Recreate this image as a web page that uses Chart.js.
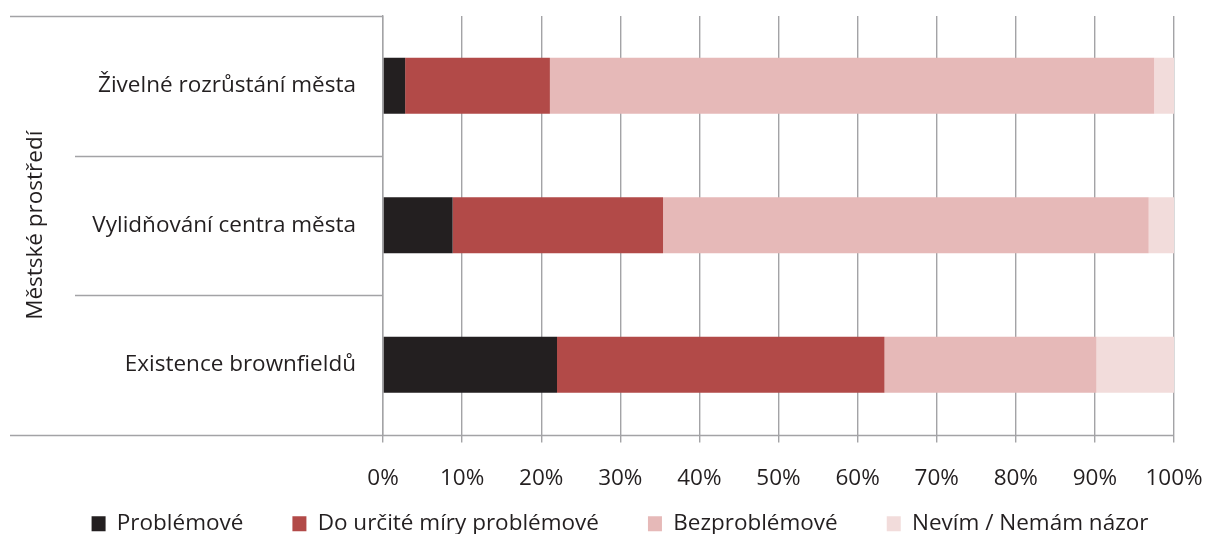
<!DOCTYPE html>
<html>
<head>
  <meta charset="utf-8">
  <title>Městské prostředí</title>
  <script src="https://cdn.jsdelivr.net/npm/chart.js"></script>
  <style>
    html, body { margin: 0; padding: 0; background: #fff; overflow: hidden; }
    .wrap { position: relative; width: 1207px; height: 580px; }
  </style>
</head>
<body>
  <div class="wrap">
    <canvas id="chart"></canvas>
  </div>
  <script>
    // Categories (top to bottom) and answer shares in %
    const categories = ['Živelné rozrůstání města', 'Vylidňování centra města', 'Existence brownfieldů'];
    const groupLabel = 'Městské prostředí';
    const seriesNames = ['Problémové', 'Do určité míry problémové', 'Bezproblémové', 'Nevím / Nemám názor'];
    const problemove = [2.8, 8.8, 22.0];
    const doUrciteMiry = [18.3, 26.6, 41.4];
    const bezproblemove = [76.4, 61.4, 26.8];
    const nevim = [2.5, 3.2, 9.8];
    const seriesColors = ['#231f20', '#b24a48', '#e6b9b8', '#f2dcdb'];

    const gridColor = '#a3a3a6';
    const textColor = '#231f20';
    const font = "'Open Sans', sans-serif";
    const fontSize = 22.5;
    const legendPadding = 49;

    // Separators and the rotated group title in the category area
    const groupAxisPlugin = {
      id: 'groupAxis',
      afterDraw(chart) {
        const ctx = chart.ctx;
        const area = chart.chartArea;
        const n = categories.length;
        const step = (area.bottom - area.top) / n;
        ctx.save();
        ctx.strokeStyle = gridColor;
        ctx.lineWidth = 1.4;
        for (let i = 0; i <= n; i++) {
          const py = Math.round(area.top + i * step) + 0.5;
          const x0 = (i === 0 || i === n) ? 10 : 75;
          ctx.beginPath();
          ctx.moveTo(x0, py);
          ctx.lineTo(i === n ? area.right : area.left, py);
          ctx.stroke();
        }
        ctx.fillStyle = textColor;
        ctx.font = fontSize + "px 'Open Sans', sans-serif";
        ctx.textAlign = 'center';
        ctx.textBaseline = 'middle';
        ctx.translate(36, (area.top + area.bottom) / 2);
        ctx.rotate(-Math.PI / 2);
        ctx.fillText(groupLabel, 0, 0);
        ctx.restore();
      }
    };

    // Legend keeps wide gaps between items but sits close under the tick labels
    const legendPlacePlugin = {
      id: 'legendPlace',
      afterLayout(chart) {
        const lg = chart.legend;
        const top = chart.scales.x.bottom - 35;
        lg.bottom = top + lg.height;
        lg.top = top;
        lg.left += 28;
        lg.right += 28;
      }
    };

    const values = [problemove, doUrciteMiry, bezproblemove, nevim];

    new Chart(document.getElementById('chart'), {
      type: 'bar',
      data: {
        labels: categories,
        datasets: seriesNames.map((name, i) => ({
          label: name,
          data: values[i],
          backgroundColor: seriesColors[i],
          borderWidth: 0,
          barPercentage: 0.4,
          categoryPercentage: 1
        }))
      },
      options: {
        indexAxis: 'y',
        responsive: true,
        maintainAspectRatio: false,
        animation: false,
        layout: { padding: { left: 10, right: 33, top: 16, bottom: 0 } },
        scales: {
          x: {
            stacked: true,
            min: 0,
            max: 100,
            ticks: {
              stepSize: 10,
              callback: v => v + '%',
              color: textColor,
              font: { family: font, size: fontSize },
              padding: 23
            },
            grid: {
              color: gridColor,
              lineWidth: 1.4,
              tickLength: 8
            },
            border: { display: false },
            afterFit(scale) {
              scale.height = 64;
              scale.paddingLeft = 0;
              scale.paddingRight = 0;
            }
          },
          y: {
            stacked: true,
            ticks: {
              color: textColor,
              font: { family: font, size: fontSize },
              padding: 19
            },
            grid: { display: false },
            border: { display: true, color: gridColor, width: 1.4 },
            afterFit(scale) {
              scale.width = 373;
              scale.paddingTop = 0;
              scale.paddingBottom = 0;
            }
          }
        },
        plugins: {
          legend: {
            position: 'bottom',
            labels: {
              color: textColor,
              font: { family: font, size: fontSize },
              boxWidth: 14,
              boxHeight: 15,
              padding: legendPadding
            }
          },
          tooltip: { enabled: false }
        }
      },
      plugins: [groupAxisPlugin, legendPlacePlugin]
    });
  </script>
</body>
</html>
